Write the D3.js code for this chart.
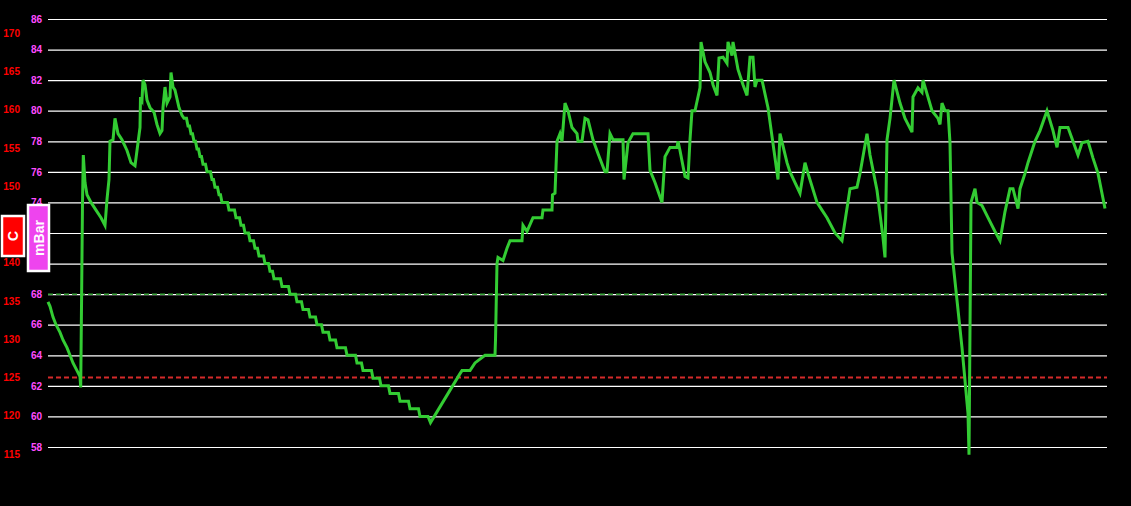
<!DOCTYPE html>
<html>
<head>
<meta charset="utf-8">
<script src="https://d3js.org/d3.v7.min.js"></script>
<style>
  html, body { margin: 0; padding: 0; background: #000; }
  svg { display: block; }
  .tick text { font-family: "Liberation Sans", Arial, sans-serif; font-weight: bold; font-size: 10px; }
</style>
</head>
<body>
<svg id="chart" width="1131" height="506"></svg>
<script>
// minutes since start of log
const minutes = [
  0, 2, 5, 8, 12, 15, 19, 22, 25, 29, 32, 32.7, 33.7, 34.5, 35.3, 37, 39, 43, 48, 53, 57, 59, 61, 62, 65, 67, 70, 74, 79, 83, 87, 90, 92, 92.5, 94, 95, 97, 99, 102, 106, 109, 112, 114, 115, 117, 119, 122, 123, 125, 127, 131, 134,
  136, 138.5, 140, 141.5, 143, 144.5, 146, 147.5, 149, 150.5, 152, 153.5, 155, 157.5, 159, 162.5, 164, 165.5, 167, 169.5, 171, 172.5, 174, 179.5, 181, 186.5, 188, 191.5, 193, 195.5, 197, 200.5, 202, 205.5, 207, 209.5, 211, 215.5, 217, 220.5, 222, 224.5, 226, 232.5, 234, 240.5, 242, 247.5, 249, 253.5, 255, 260.5, 262, 267.5, 269, 273.5, 275, 280.5, 282, 287.5, 289, 297.5, 299, 307.5, 309, 313.5, 315, 323.5, 325, 331.5, 333, 340.5, 342, 350.5, 352, 360.5, 362, 370.5, 372, 380, 382.5,
  412, 414, 422, 427, 437, 447, 447.5, 449, 450, 455, 459, 462, 474, 475, 479, 485, 494, 495, 504, 504.5, 507, 509, 512, 514, 517, 520, 524, 529, 530, 534, 537, 540, 545, 550, 557, 559, 562, 565, 575, 576, 580, 585, 600, 602, 607, 614, 617, 622, 629, 630, 632, 637, 640, 642, 644, 647, 649, 652, 653, 657, 662, 665, 669, 671, 675, 679, 680, 684, 685, 690, 695, 699, 702, 705, 707, 709, 714, 720, 730, 732, 739, 742, 747, 752, 757, 760, 769, 774, 779, 787, 794, 802, 809, 812, 819, 822, 829, 835, 837, 839, 842, 846, 852, 857, 864, 865, 870, 874, 875, 884, 890, 892, 894, 897, 900, 902, 904, 914, 920, 921, 923, 927, 929, 934, 940, 947, 952, 957, 962, 965, 970, 972, 977, 980, 987, 992, 999, 1005, 1009, 1012, 1020, 1025, 1030, 1034, 1040, 1045, 1050, 1057
];
// pressure, mBar
const pressure = [
  67.5, 67.2, 66.5, 66.0, 65.5, 65.0, 64.5, 64.0, 63.5, 63.0, 62.6, 61.9, 68.5, 74.0, 77.1, 75.3, 74.5, 74.0, 73.5, 73.0, 72.5, 74.2, 75.5, 78.0, 78.1, 79.5, 78.5, 78.1, 77.4, 76.6, 76.4, 77.9, 78.9, 80.9, 80.7, 82.0, 81.7, 80.7, 80.2, 79.9, 79.1, 78.5, 78.7, 80.2, 81.55, 80.5, 80.9, 82.5, 81.55, 81.35, 80.2, 79.7,
  79.5, 79.5, 79, 79, 78.5, 78.5, 78, 78, 77.5, 77.5, 77, 77, 76.5, 76.5, 76, 76, 75.5, 75.5, 75, 75, 74.5, 74.5, 74, 74, 73.5, 73.5, 73, 73, 72.5, 72.5, 72, 72, 71.5, 71.5, 71, 71, 70.5, 70.5, 70, 70, 69.5, 69.5, 69, 69, 68.5, 68.5, 68, 68, 67.5, 67.5, 67, 67, 66.5, 66.5, 66, 66, 65.5, 65.5, 65, 65, 64.5, 64.5, 64, 64, 63.5, 63.5, 63, 63, 62.5, 62.5, 62, 62, 61.5, 61.5, 61, 61, 60.5, 60.5, 60, 60, 59.6,
  62.8, 63.0, 63.0, 63.5, 64.0, 64.0, 65.0, 70.0, 70.4, 70.2, 71.0, 71.5, 71.5, 72.5, 72.1, 73.0, 73.0, 73.5, 73.5, 74.5, 74.6, 78.0, 78.5, 78.0, 80.5, 80.0, 78.9, 78.5, 78.0, 78.0, 79.5, 79.4, 78.1, 77.2, 76.0, 76.0, 78.5, 78.1, 78.1, 75.5, 77.9, 78.5, 78.5, 76.1, 75.3, 74.0, 77.0, 77.6, 77.6, 78.0, 77.4, 75.7, 75.6, 78.1, 80.0, 80.0, 80.6, 81.5, 84.5, 83.2, 82.5, 81.7, 81.0, 83.45, 83.5, 83.1, 84.5, 83.6, 84.5, 82.7, 81.7, 81.0, 83.5, 83.5, 81.55, 82.0, 82.0, 80.2, 75.5, 78.5, 76.6, 76.0, 75.3, 74.6, 76.6, 75.9, 74.0, 73.5, 73.0, 72.0, 71.5, 74.9, 75.0, 75.9, 78.5, 77.1, 74.8, 71.7, 70.4, 78.1, 79.5, 82.0, 80.5, 79.5, 78.6, 80.9, 81.5, 81.2, 82.0, 80.0, 79.5, 79.1, 80.5, 80.0, 80.0, 77.9, 70.7, 64.5, 60.2, 57.5, 74.0, 74.9, 74.0, 73.8, 73.0, 72.1, 71.5, 73.4, 74.9, 74.9, 73.6, 74.9, 75.9, 76.6, 78.0, 78.7, 80.0, 78.7, 77.6, 78.9, 78.9, 78.0, 77.1, 77.9, 78.0, 76.9, 75.9, 73.6
];
const mbarTicks = [58, 60, 62, 64, 66, 68, 70, 72, 74, 76, 78, 80, 82, 84, 86];
const tempTicks = [115, 120, 125, 130, 135, 140, 145, 150, 155, 160, 165, 170];
const mbarLimit = 68;   // green dashed
const tempLimit = 125;  // red dashed

var svg = d3.select("#chart");
var left = 48, right = 1107;

var x = d3.scaleLinear().domain([0, 1059]).range([left, right]);
var yMbar = d3.scaleLinear().domain([58, 86]).range([447, 19]);
var yTemp = d3.scaleLinear().domain([115, 170]).range([454, 33]);

// gridlines + mBar labels
var mbarAxis = svg.append("g")
  .attr("transform", "translate(" + left + ",0)")
  .call(d3.axisLeft(yMbar).tickValues(mbarTicks).tickFormat(d3.format("d"))
    .tickSize(-(right - left)).tickPadding(6));
mbarAxis.select(".domain").remove();
mbarAxis.selectAll("line").attr("stroke", "#fff").attr("stroke-width", 1.2);
mbarAxis.selectAll("text").attr("fill", "#ff4cff");

// C labels
var tempAxis = svg.append("g")
  .attr("transform", "translate(20,0)")
  .call(d3.axisLeft(yTemp).tickValues(tempTicks).tickSize(0).tickPadding(0));
tempAxis.select(".domain").remove();
tempAxis.selectAll("text").attr("fill", "#f00");

// limit lines
svg.append("line")
  .attr("x1", left).attr("x2", right)
  .attr("y1", yMbar(mbarLimit)).attr("y2", yMbar(mbarLimit))
  .attr("stroke", "#3fa83f").attr("stroke-width", 1.5)
  .attr("stroke-dasharray", "5,3");
svg.append("line")
  .attr("x1", left).attr("x2", right)
  .attr("y1", yTemp(tempLimit)).attr("y2", yTemp(tempLimit))
  .attr("stroke", "#d42a2a").attr("stroke-width", 2)
  .attr("stroke-dasharray", "5,3");

// pressure trace
var points = minutes.map((m, i) => [m, pressure[i]]);
var line = d3.line()
  .x(d => x(d[0]))
  .y(d => yMbar(d[1]));
svg.append("path")
  .datum(points)
  .attr("d", line)
  .attr("fill", "none")
  .attr("stroke", "#33cc33")
  .attr("stroke-width", 3)
  .attr("stroke-linejoin", "miter");

// unit badges
var badges = [
  {label: "C", x: 2, y: 216, w: 22, h: 40, fill: "#f00", size: 14},
  {label: "mBar", x: 28, y: 205, w: 21, h: 66, fill: "#ee44ee", size: 14}
];
var badge = svg.selectAll(".badge")
  .data(badges)
  .enter()
  .append("g")
  .attr("class", "badge");
badge.append("rect")
  .attr("x", d => d.x).attr("y", d => d.y)
  .attr("width", d => d.w).attr("height", d => d.h)
  .attr("fill", d => d.fill)
  .attr("stroke", "#fff").attr("stroke-width", 2.5);
badge.append("text")
  .attr("transform", d => "translate(" + (d.x + d.w / 2) + "," + (d.y + d.h / 2) + ") rotate(-90)")
  .attr("text-anchor", "middle")
  .attr("dy", "0.36em")
  .attr("fill", "#fff")
  .style("font-family", "Liberation Sans, Arial, sans-serif")
  .style("font-weight", "bold")
  .style("font-size", d => d.size + "px")
  .text(d => d.label);
</script>
</body>
</html>
